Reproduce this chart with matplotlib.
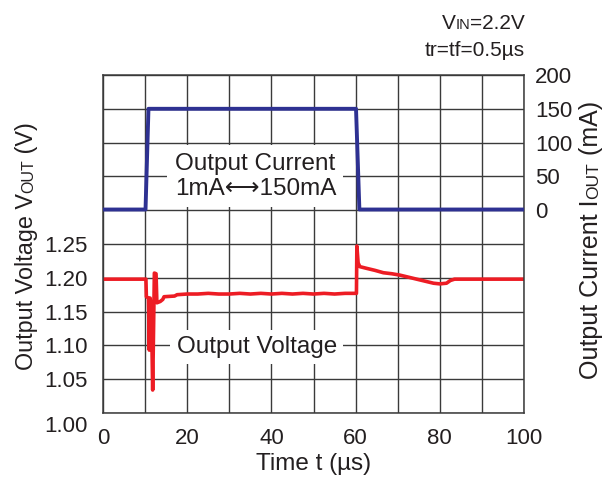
import matplotlib
matplotlib.use("Agg")
import matplotlib.pyplot as plt
from matplotlib.transforms import IdentityTransform, ScaledTranslation

plt.rcParams['font.family'] = ['Liberation Sans', 'DejaVu Sans']

# ---- data -------------------------------------------------------------
# load current step (mA)
t_iout = [0, 10.1, 10.8, 60.1, 60.9, 100]
iout = [1, 1, 150, 150, 1, 1]

# output voltage response (V)
t_vout = [0, 10.2, 10.3, 10.8, 11.0, 11.2, 11.5, 11.8, 12.0, 12.2, 12.6, 12.8,
          13.6, 14.2, 14.5, 17.0, 17.6, 20, 22.5, 25, 27.5, 30, 32.5, 35, 37.5,
          40, 42.5, 45, 47.5, 50, 52.5, 55, 57.5, 60.2, 60.3, 60.6, 61.0, 62.6,
          64.6, 66.6, 68.6, 70.5, 72.5, 74.5, 76.5, 78.5, 80.0, 81.6, 82.5,
          83.5, 90, 100]
vout = [1.198, 1.198, 1.172, 1.170, 1.093, 1.170, 1.150, 1.034, 1.120, 1.207,
        1.206, 1.163, 1.165, 1.168, 1.172, 1.173, 1.175, 1.176, 1.176, 1.177,
        1.176, 1.176, 1.177, 1.176, 1.177, 1.176, 1.177, 1.176, 1.177, 1.176,
        1.177, 1.176, 1.177, 1.177, 1.247, 1.222, 1.2165, 1.214, 1.211, 1.2075,
        1.206, 1.204, 1.201, 1.198, 1.195, 1.192, 1.191, 1.192, 1.196, 1.198,
        1.198, 1.198]

x_ticks = [0, 10, 20, 30, 40, 50, 60, 70, 80, 90, 100]
x_labels = ['0', '', '20', '', '40', '', '60', '', '80', '', '100']
v_ticks = [1.00, 1.05, 1.10, 1.15, 1.20, 1.25, 1.30, 1.35, 1.40, 1.45, 1.50]
v_labels = ['1.00', '1.05', '1.10', '1.15', '1.20', '1.25', '', '', '', '', '']
i_ticks = [0, 50, 100, 150, 200]
i_labels = ['0', '50', '100', '150', '200']

BLUE = '#2e3192'
RED = '#ed1c24'
GRID = '#3a3a3a'
INK = '#231f20'
FS = 16      # tick labels
FL = 17.5    # axis titles and in-plot labels

W, H = 603, 484
fig = plt.figure(figsize=(W / 100, H / 100), dpi=100)
ax = fig.add_axes([103 / W, 1 - 413 / H, 421 / W, 338 / H])
ax2 = ax.twinx()

# ---- voltage axis (left) ---------------------------------------------
ax.set_xlim(0, 100)
ax.set_ylim(1.00, 1.50)
ax.set_xticks(x_ticks)
ax.set_xticklabels(x_labels, fontsize=FS, color=INK)
ax.set_yticks(v_ticks)
ax.set_yticklabels(v_labels, fontsize=FS, color=INK)
ax.tick_params(axis='both', length=0)
ax.tick_params(axis='x', pad=10.5)
ax.tick_params(axis='y', pad=11)
ax.set_axisbelow(True)
ax.grid(True, color=GRID, linewidth=1.0)
for s in ax.spines.values():
    s.set_color(GRID)
    s.set_linewidth(1.1)

# nudge the bottom voltage label a little below its gridline
lab0 = ax.get_yticklabels()[0]
lab0.set_transform(lab0.get_transform() +
                   ScaledTranslation(0, -8 / 72, fig.dpi_scale_trans))

ax.plot(t_vout, vout, color=RED, linewidth=2.6, solid_joinstyle='round',
        zorder=2)

# ---- current axis (right) --------------------------------------------
ax2.set_ylim(-300, 200)
ax2.set_yticks(i_ticks)
ax2.set_yticklabels(i_labels, fontsize=FS, color=INK)
ax2.tick_params(axis='y', length=0, pad=8)
for s in ax2.spines.values():
    s.set_visible(False)
ax2.plot(t_iout, iout, color=BLUE, linewidth=2.8, zorder=2)

# ---- in-plot labels ----------------------------------------------------
ax2.text(36.2, 50, 'Output Current\n1mA\u27f7150mA', fontsize=FL,
         ha='center', va='center', linespacing=1.2, color=INK,
         bbox=dict(boxstyle='square,pad=0.3', facecolor='white',
                   edgecolor='none'), zorder=5)
ax.text(36.5, 1.098, 'Output Voltage', fontsize=FL, ha='center',
        va='center', color=INK,
        bbox=dict(boxstyle='square,pad=0.25', facecolor='white',
                  edgecolor='none'), zorder=5)

ax.set_xlabel('Time t (\u00b5s)', fontsize=FL, labelpad=3, color=INK)


# ---- labels with small-caps suffixes -----------------------------------
def rich_text(x_px, y_px, parts, rotation=0, align='center'):
    """Lay out text pieces of different sizes on a shared baseline."""
    r = fig.canvas.get_renderer()
    widths = []
    for s, size in parts:
        t = fig.text(0, 0, s, fontsize=size)
        widths.append(t.get_window_extent(r).width)
        t.remove()
    total = sum(widths)
    off = {'center': -total / 2, 'right': -total, 'left': 0}[align]
    for (s, size), w in zip(parts, widths):
        dx, dy = (0, off) if rotation == 90 else (off, 0)
        fig.text(x_px + dx, H - y_px + dy, s, fontsize=size,
                 rotation=rotation, rotation_mode='anchor', ha='left',
                 va='baseline', transform=IdentityTransform(), color=INK)
        off += w


rich_text(33, 246, [('Output Voltage V', 16.8), ('OUT', 11.5), (' (V)', 16.8)],
          rotation=90)
rich_text(598, 240, [('Output Current I', 18), ('OUT', 12.5), (' (mA)', 18)],
          rotation=90)
rich_text(525, 29, [('V', 15), ('IN', 10.5), ('=2.2V', 15)], align='right')
rich_text(525, 56, [('tr=tf=0.5\u00b5s', 15)], align='right')

fig.savefig('out.png', dpi=100)
